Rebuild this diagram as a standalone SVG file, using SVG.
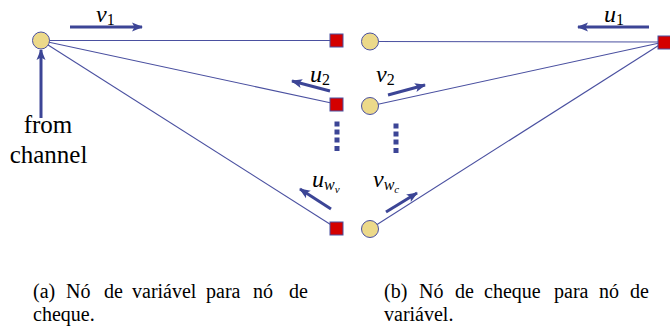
<svg xmlns="http://www.w3.org/2000/svg" width="670" height="332" viewBox="0 0 670 332">
<style>
.edge{stroke:#4a50a0;stroke-width:1.1;fill:none}
.arr{stroke:#3c4596;stroke-width:3;fill:none;marker-end:url(#ah)}
.var{fill:#ecd98a;stroke:#4a50a0;stroke-width:1}
.chk{fill:#d40000;stroke:#4a50a0;stroke-width:1}
.dot{fill:#3c4596}
text{font-family:'Liberation Serif','Times New Roman',serif;fill:#000}
.lab{font-style:italic;font-size:24px}
.sub{font-size:16px;font-style:normal}
.subi{font-size:16px;font-style:italic}
.ssub{font-style:italic;font-size:11px}
.txt{font-size:25px}
.cap{font-size:20px}
</style>
<defs>
<marker id="ah" markerUnits="userSpaceOnUse" markerWidth="14" markerHeight="12" viewBox="-1 -6 14 12" refX="10" refY="0" orient="auto">
<path d="M0,-4.5 L11,0 L0,4.5 L2.5,0 Z" fill="#3c4596"/>
</marker>
</defs>
<g id="connectors">
<line class="edge" x1="41" y1="40.5" x2="336" y2="40.5"/>
<line class="edge" x1="41" y1="40.5" x2="336" y2="104"/>
<line class="edge" x1="41" y1="40.5" x2="336" y2="228"/>
<line class="edge" x1="664" y1="42" x2="370" y2="41.5"/>
<line class="edge" x1="664" y1="42" x2="370" y2="106"/>
<line class="edge" x1="664" y1="42" x2="370" y2="229"/>
</g>
<g id="arrows">
<line class="arr" x1="41" y1="118" x2="41" y2="50"/>
<line class="arr" x1="70" y1="27" x2="142" y2="27"/>
<line class="arr" x1="649" y1="27" x2="578" y2="27"/>
<line class="arr" x1="330" y1="91" x2="292" y2="81"/>
<line class="arr" x1="388" y1="95" x2="425" y2="85"/>
<line class="arr" x1="331" y1="209" x2="300" y2="189"/>
<line class="arr" x1="386" y1="212" x2="417" y2="193"/>
</g>
<g id="var-left">
<circle class="var" cx="41" cy="40.5" r="8.5"/>
</g>
<g id="chk-1"><rect class="chk" x="330" y="34" width="13" height="13"/></g>
<g id="chk-2"><rect class="chk" x="330" y="98" width="13" height="13"/></g>
<g id="chk-3"><rect class="chk" x="330" y="222" width="13" height="13"/></g>
<g id="var-1"><circle class="var" cx="370" cy="41.5" r="8.5"/></g>
<g id="var-2"><circle class="var" cx="370" cy="106" r="8.5"/></g>
<g id="var-3"><circle class="var" cx="370" cy="229" r="8.5"/></g>
<g id="chk-right"><rect class="chk" x="658" y="36" width="13" height="13"/></g>
<g id="dots-left">
<rect class="dot" x="334.5" y="121.5" width="5" height="5"/>
<rect class="dot" x="334.5" y="129.5" width="5" height="5"/>
<rect class="dot" x="334.5" y="137.5" width="5" height="5"/>
<rect class="dot" x="334.5" y="146" width="5" height="5"/>
</g>
<g id="dots-right">
<rect class="dot" x="393.5" y="123.5" width="5" height="5"/>
<rect class="dot" x="393.5" y="131.5" width="5" height="5"/>
<rect class="dot" x="393.5" y="139.5" width="5" height="5"/>
<rect class="dot" x="393.5" y="148" width="5" height="5"/>
</g>
<g id="labels">
<text class="txt" x="48" y="133" text-anchor="middle">from</text>
<text class="txt" x="48.5" y="163" text-anchor="middle">channel</text>
<text class="lab" x="96" y="22">v<tspan class="sub" dy="3">1</tspan></text>
<text class="lab" x="604" y="22">u<tspan class="sub" dy="3">1</tspan></text>
<text class="lab" x="310" y="82">u<tspan class="sub" dy="3">2</tspan></text>
<text class="lab" x="376" y="82">v<tspan class="sub" dy="3">2</tspan></text>
<text class="lab" x="312" y="187">u<tspan class="subi" dy="3">w</tspan><tspan class="ssub" dy="3">v</tspan></text>
<text class="lab" x="373" y="187">v<tspan class="subi" dy="3">w</tspan><tspan class="ssub" dy="3">c</tspan></text>
</g>
<g id="captions">
<text class="cap" y="298"><tspan x="33">(a)</tspan><tspan x="66">Nó</tspan><tspan x="104">de</tspan><tspan x="132">variável</tspan><tspan x="206">para</tspan><tspan x="253">nó</tspan><tspan x="289">de</tspan></text>
<text class="cap" x="33" y="321">cheque.</text>
<text class="cap" y="298"><tspan x="384">(b)</tspan><tspan x="419">Nó</tspan><tspan x="455">de</tspan><tspan x="484">cheque</tspan><tspan x="554">para</tspan><tspan x="599">nó</tspan><tspan x="630">de</tspan></text>
<text class="cap" x="384" y="321">variável.</text>
</g>
</svg>
